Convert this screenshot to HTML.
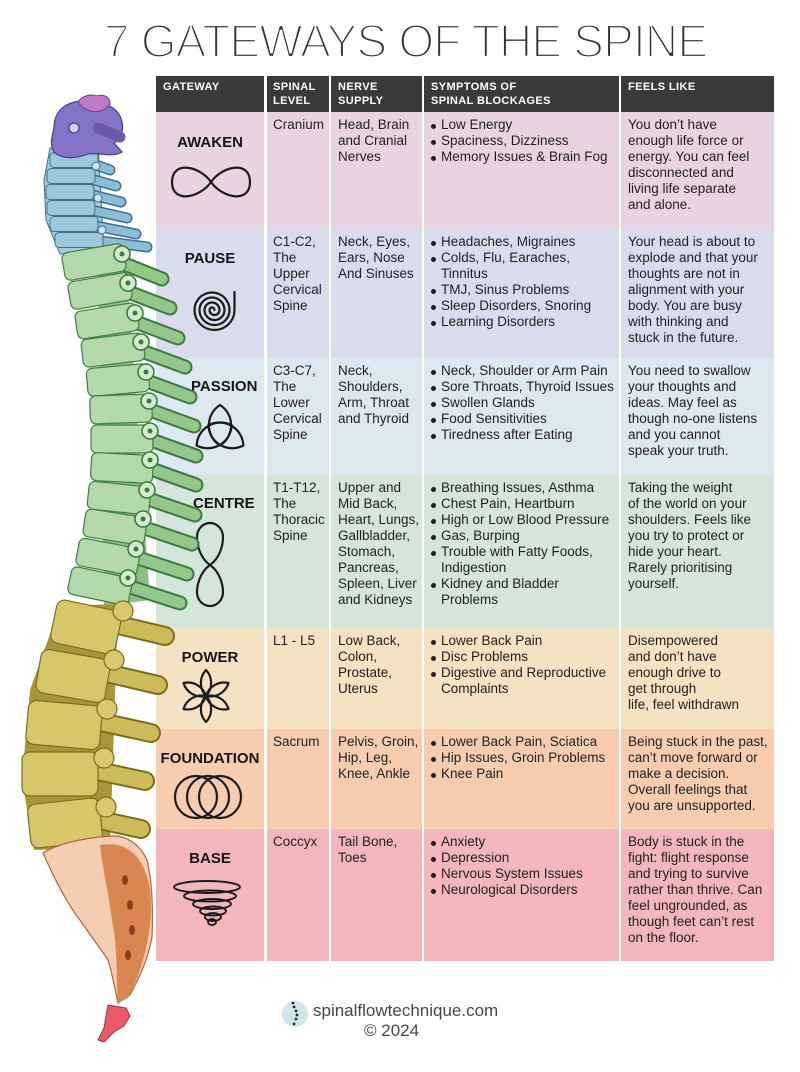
<!DOCTYPE html>
<html><head><meta charset="utf-8">
<style>
*{margin:0;padding:0;box-sizing:border-box}
html,body{width:800px;height:1072px;background:#fff;overflow:hidden}
body{position:relative;font-family:"Liberation Sans",Arial,sans-serif;color:#1f1f1f}
.hd,.row{position:absolute;left:0;width:800px}
.hd{top:76px;height:36px}
.cell{position:absolute;top:0;height:100%}
.a{left:156px;width:108px}
.b{left:267px;width:62px}
.c{left:331px;width:91px}
.d{left:424px;width:195px}
.e{left:621px;width:153px}
.hd .cell{background:#3a3a3a;color:#fff;font-weight:bold;font-size:11px;line-height:13.5px;letter-spacing:0.4px;padding-top:5px;white-space:nowrap}
.hd .a{padding-left:7px}.hd .b{padding-left:6px}.hd .c{padding-left:7px}.hd .d{padding-left:7px}.hd .e{padding-left:7px}
.row .cell{background:var(--bg);font-size:13.5px;line-height:16px;padding-top:5px;white-space:nowrap}
.row .b{padding-left:6px}.row .c{padding-left:7px}.row .e{padding-left:7px}
ul{list-style:none}
li{position:relative;padding-left:17px}
li::before{content:"";position:absolute;left:7px;top:6.5px;width:5px;height:5px;border-radius:50%;background:#1f1f1f}
.lab{position:absolute;font-weight:bold;font-size:15px;line-height:17px;color:#161616;white-space:nowrap}
.ctr{left:156px;width:108px;text-align:center}
.ft{position:absolute;font-size:17px;line-height:20px;color:#474747;white-space:nowrap}
svg.ov{position:absolute;left:0;top:0}
</style></head><body>

<div class="hd">
  <div class="cell a">GATEWAY</div>
  <div class="cell b">SPINAL<br>LEVEL</div>
  <div class="cell c">NERVE<br>SUPPLY</div>
  <div class="cell d">SYMPTOMS OF<br>SPINAL BLOCKAGES</div>
  <div class="cell e">FEELS LIKE</div>
</div>

<div class="row" style="top:112px;height:117px;--bg:#e9d3e3">
  <div class="cell a"></div>
  <div class="cell b">Cranium</div>
  <div class="cell c">Head, Brain<br>and Cranial<br>Nerves</div>
  <div class="cell d"><ul><li>Low Energy</li><li>Spaciness, Dizziness</li><li>Memory Issues &amp; Brain Fog</li></ul></div>
  <div class="cell e">You don’t have<br>enough life force or<br>energy. You can feel<br>disconnected and<br>living life separate<br>and alone.</div>
</div>

<div class="row" style="top:229px;height:129px;--bg:#d8dcec">
  <div class="cell a"></div>
  <div class="cell b">C1-C2,<br>The<br>Upper<br>Cervical<br>Spine</div>
  <div class="cell c">Neck, Eyes,<br>Ears, Nose<br>And Sinuses</div>
  <div class="cell d"><ul><li>Headaches, Migraines</li><li>Colds, Flu, Earaches,<br>Tinnitus</li><li>TMJ, Sinus Problems</li><li>Sleep Disorders, Snoring</li><li>Learning Disorders</li></ul></div>
  <div class="cell e">Your head is about to<br>explode and that your<br>thoughts are not in<br>alignment with your<br>body. You are busy<br>with thinking and<br>stuck in the future.</div>
</div>

<div class="row" style="top:358px;height:117px;--bg:#dde9f1">
  <div class="cell a"></div>
  <div class="cell b">C3-C7,<br>The<br>Lower<br>Cervical<br>Spine</div>
  <div class="cell c">Neck,<br>Shoulders,<br>Arm, Throat<br>and Thyroid</div>
  <div class="cell d"><ul><li>Neck, Shoulder or Arm Pain</li><li>Sore Throats, Thyroid Issues</li><li>Swollen Glands</li><li>Food Sensitivities</li><li>Tiredness after Eating</li></ul></div>
  <div class="cell e">You need to swallow<br>your thoughts and<br>ideas. May feel as<br>though no-one listens<br>and you cannot<br>speak your truth.</div>
</div>

<div class="row" style="top:475px;height:153px;--bg:#d4e6da">
  <div class="cell a"></div>
  <div class="cell b">T1-T12,<br>The<br>Thoracic<br>Spine</div>
  <div class="cell c">Upper and<br>Mid Back,<br>Heart, Lungs,<br>Gallbladder,<br>Stomach,<br>Pancreas,<br>Spleen, Liver<br>and Kidneys</div>
  <div class="cell d"><ul><li>Breathing Issues, Asthma</li><li>Chest Pain, Heartburn</li><li>High or Low Blood Pressure</li><li>Gas, Burping</li><li>Trouble with Fatty Foods,<br>Indigestion</li><li>Kidney and Bladder<br>Problems</li></ul></div>
  <div class="cell e">Taking the weight<br>of the world on your<br>shoulders. Feels like<br>you try to protect or<br>hide your heart.<br>Rarely prioritising<br>yourself.</div>
</div>

<div class="row" style="top:628px;height:101px;--bg:#f5e2c2">
  <div class="cell a"></div>
  <div class="cell b">L1 - L5</div>
  <div class="cell c">Low Back,<br>Colon,<br>Prostate,<br>Uterus</div>
  <div class="cell d"><ul><li>Lower Back Pain</li><li>Disc Problems</li><li>Digestive and Reproductive<br>Complaints</li></ul></div>
  <div class="cell e">Disempowered<br>and don’t have<br>enough drive to<br>get through<br>life, feel withdrawn</div>
</div>

<div class="row" style="top:729px;height:100px;--bg:#f8cdaf">
  <div class="cell a"></div>
  <div class="cell b">Sacrum</div>
  <div class="cell c">Pelvis, Groin,<br>Hip, Leg,<br>Knee, Ankle</div>
  <div class="cell d"><ul><li>Lower Back Pain, Sciatica</li><li>Hip Issues, Groin Problems</li><li>Knee Pain</li></ul></div>
  <div class="cell e">Being stuck in the past,<br>can’t move forward or<br>make a decision.<br>Overall feelings that<br>you are unsupported.</div>
</div>

<div class="row" style="top:829px;height:132px;--bg:#f3b7bb">
  <div class="cell a"></div>
  <div class="cell b">Coccyx</div>
  <div class="cell c">Tail Bone,<br>Toes</div>
  <div class="cell d"><ul><li>Anxiety</li><li>Depression</li><li>Nervous System Issues</li><li>Neurological Disorders</li></ul></div>
  <div class="cell e">Body is stuck in the<br>fight: flight response<br>and trying to survive<br>rather than thrive. Can<br>feel ungrounded, as<br>though feet can’t rest<br>on the floor.</div>
</div>

<div class="lab ctr" style="top:134px">AWAKEN</div>
<div class="lab ctr" style="top:250px">PAUSE</div>
<div class="lab" style="top:378px;left:191px">PASSION</div>
<div class="lab" style="top:495px;left:193px">CENTRE</div>
<div class="lab ctr" style="top:649px">POWER</div>
<div class="lab ctr" style="top:750px">FOUNDATION</div>
<div class="lab ctr" style="top:850px">BASE</div>

<div class="ft" style="left:313px;top:1001px">spinalflowtechnique.com</div>
<div class="ft" style="left:364px;top:1021px">© 2024</div>

<svg class="ov" width="800" height="1072" viewBox="0 0 800 1072">
  <!-- Title -->
  <text x="104" y="57" font-family="Liberation Sans, Arial, sans-serif" font-size="46" fill="#333" stroke="#fff" stroke-width="2.3" textLength="604" lengthAdjust="spacing">7 GATEWAYS OF THE SPINE</text>

  <!-- Icons -->
  <g fill="none" stroke="#1c1c1c" stroke-width="2.2" stroke-linejoin="round" stroke-linecap="round">
    <path d="M211,182 C222,166 250,160 250,182 C250,204 222,198 211,182 C200,166 172,160 172,182 C172,204 200,198 211,182 Z"/>
    <path d="M214.5,310 A2.5,2.5 0 0 0 209.5,310 A5,5 0 0 0 219.5,310 A7.5,7.5 0 0 0 204.5,310 A10,10 0 0 0 224.5,310 A12.5,12.5 0 0 0 199.5,310 A15,15 0 0 0 229.5,310 A17.5,17.5 0 0 0 194.5,310 A20,20 0 0 0 234.5,310 L234.5,292"/>
    <g>
      <path d="M220,405 A24,24 0 0 1 220,445.5 A24,24 0 0 1 220,405 Z"/>
      <path d="M220,405 A24,24 0 0 1 220,445.5 A24,24 0 0 1 220,405 Z" transform="rotate(120 220 432)"/>
      <path d="M220,405 A24,24 0 0 1 220,445.5 A24,24 0 0 1 220,405 Z" transform="rotate(240 220 432)"/>
    </g>
    <path d="M210,565 C220,572 223,585 223,592 C223,600 217,606 210,606 C203,606 197,600 197,592 C197,585 200,572 210,565 C220,558 223,545 223,537 C223,529 217,523 210,523 C203,523 197,529 197,537 C197,545 200,558 210,565 Z"/>
    <g>
      <path d="M206,696 A19,19 0 0 1 206,670 A19,19 0 0 1 206,696 Z"/>
      <path d="M206,696 A19,19 0 0 1 206,670 A19,19 0 0 1 206,696 Z" transform="rotate(60 206 696)"/>
      <path d="M206,696 A19,19 0 0 1 206,670 A19,19 0 0 1 206,696 Z" transform="rotate(120 206 696)"/>
      <path d="M206,696 A19,19 0 0 1 206,670 A19,19 0 0 1 206,696 Z" transform="rotate(180 206 696)"/>
      <path d="M206,696 A19,19 0 0 1 206,670 A19,19 0 0 1 206,696 Z" transform="rotate(240 206 696)"/>
      <path d="M206,696 A19,19 0 0 1 206,670 A19,19 0 0 1 206,696 Z" transform="rotate(300 206 696)"/>
    </g>
    <circle cx="196" cy="797" r="21"/>
    <circle cx="208" cy="797" r="21"/>
    <circle cx="220" cy="797" r="21"/>
    <g stroke-width="1.9">
      <ellipse cx="207" cy="887" rx="33" ry="6"/>
      <ellipse cx="210" cy="896" rx="26" ry="5.5"/>
      <ellipse cx="212" cy="904" rx="19" ry="5"/>
      <ellipse cx="213" cy="911" rx="13" ry="4.5"/>
      <ellipse cx="213" cy="917" rx="8" ry="4"/>
      <ellipse cx="212" cy="922" rx="4" ry="3"/>
    </g>
  </g>

  <!-- Spine: cervical (blue) -->
  <g>
    <path d="M50,148 L98,144 L104,252 L60,254 L46,220 L44,180 Z" fill="#a6cbe0" stroke="#3c7090" stroke-width="1"/>
    <g stroke-linecap="round">
      <g stroke="#3c7090" stroke-width="11">
        <line x1="82" y1="160" x2="110" y2="170"/>
        <line x1="80" y1="176" x2="116" y2="186"/>
        <line x1="80" y1="192" x2="121" y2="202"/>
        <line x1="82" y1="208" x2="127" y2="218"/>
        <line x1="86" y1="224" x2="136" y2="234"/>
        <line x1="92" y1="240" x2="147" y2="247"/>
      </g>
      <g stroke="#8cbdd7" stroke-width="8">
        <line x1="82" y1="160" x2="110" y2="170"/>
        <line x1="80" y1="176" x2="116" y2="186"/>
        <line x1="80" y1="192" x2="121" y2="202"/>
        <line x1="82" y1="208" x2="127" y2="218"/>
        <line x1="86" y1="224" x2="136" y2="234"/>
        <line x1="92" y1="240" x2="147" y2="247"/>
      </g>
    </g>
    <g fill="#9ec8de" stroke="#3c7090" stroke-width="1">
      <rect x="50" y="152.5" width="48" height="15" rx="4"/>
      <rect x="47" y="168.5" width="48" height="15" rx="4"/>
      <rect x="46" y="184.5" width="48" height="15" rx="4"/>
      <rect x="47" y="200.5" width="48" height="15" rx="4"/>
      <rect x="50" y="216.5" width="48" height="15" rx="4"/>
      <rect x="55" y="232.5" width="48" height="15" rx="4"/>
    </g>
    <g fill="#cfe5f0" stroke="#3c7090" stroke-width="1">
      <circle cx="96" cy="166" r="4"/><circle cx="98" cy="198" r="4"/><circle cx="102" cy="230" r="4"/>
    </g>
  </g>

  <!-- Spine: atlas (purple) -->
  <path d="M54,128 C54,112 64,103 80,101 L100,103 C112,105 120,112 122,122 C124,132 120,140 114,143 L122,152 C112,158 98,152 88,154 C78,158 64,160 55,153 C49,146 52,136 54,128 Z" fill="#8374c8" stroke="#4a3a8a" stroke-width="1.2"/>
  <path d="M78,102 C82,95 92,94 96,96 C103,94 110,96 110,104 C105,111 96,113 90,111 C85,109 80,106 78,102 Z" fill="#c07ac8" stroke="#7a3a8a" stroke-width="1"/>
  <line x1="98" y1="128" x2="120" y2="137" stroke="#6c5aa8" stroke-width="11" stroke-linecap="round"/>
  <circle cx="74" cy="128" r="5" fill="#d8d2f0" stroke="#4a3a8a" stroke-width="1.2"/>

  <!-- Spine: thoracic (green) -->
  <path d="M98,250 L125,244 L150,600 L104,606 Z" fill="#8fbf86"/>
  <g stroke-linecap="round">
    <g stroke="#3a7a3f" stroke-width="15">
      <line x1="112" y1="259" x2="162" y2="279"/>
      <line x1="118" y1="288" x2="170" y2="308"/>
      <line x1="125" y1="318" x2="178" y2="338"/>
      <line x1="131" y1="347" x2="185" y2="367"/>
      <line x1="136" y1="377" x2="190" y2="397"/>
      <line x1="139" y1="406" x2="194" y2="426"/>
      <line x1="140" y1="436" x2="196" y2="456"/>
      <line x1="140" y1="465" x2="196" y2="485"/>
      <line x1="137" y1="495" x2="195" y2="515"/>
      <line x1="133" y1="524" x2="192" y2="544"/>
      <line x1="126" y1="554" x2="187" y2="574"/>
      <line x1="118" y1="583" x2="180" y2="603"/>
    </g>
    <g stroke="#94c78a" stroke-width="11">
      <line x1="112" y1="259" x2="162" y2="279"/>
      <line x1="118" y1="288" x2="170" y2="308"/>
      <line x1="125" y1="318" x2="178" y2="338"/>
      <line x1="131" y1="347" x2="185" y2="367"/>
      <line x1="136" y1="377" x2="190" y2="397"/>
      <line x1="139" y1="406" x2="194" y2="426"/>
      <line x1="140" y1="436" x2="196" y2="456"/>
      <line x1="140" y1="465" x2="196" y2="485"/>
      <line x1="137" y1="495" x2="195" y2="515"/>
      <line x1="133" y1="524" x2="192" y2="544"/>
      <line x1="126" y1="554" x2="187" y2="574"/>
      <line x1="118" y1="583" x2="180" y2="603"/>
    </g>
  </g>
  <g fill="#b3d8aa" stroke="#3f7f45" stroke-width="1.2">
    <rect x="63" y="248" width="62" height="28" rx="6" transform="rotate(-10 94 262)"/>
    <rect x="69" y="277" width="62" height="28" rx="6" transform="rotate(-10 100 291)"/>
    <rect x="76" y="307" width="62" height="28" rx="6" transform="rotate(-9 107 321)"/>
    <rect x="82" y="336" width="62" height="28" rx="6" transform="rotate(-7 113 350)"/>
    <rect x="87" y="366" width="62" height="28" rx="6" transform="rotate(-5 118 380)"/>
    <rect x="90" y="395" width="62" height="28" rx="6" transform="rotate(-2 121 409)"/>
    <rect x="91" y="425" width="62" height="28" rx="6"/>
    <rect x="91" y="454" width="62" height="28" rx="6" transform="rotate(3 122 468)"/>
    <rect x="88" y="484" width="62" height="28" rx="6" transform="rotate(6 119 498)"/>
    <rect x="84" y="513" width="62" height="28" rx="6" transform="rotate(9 115 527)"/>
    <rect x="77" y="543" width="62" height="28" rx="6" transform="rotate(11 108 557)"/>
    <rect x="69" y="572" width="62" height="28" rx="6" transform="rotate(12 100 586)"/>
  </g>
  <g fill="#d4ebcd" stroke="#3a7a3f" stroke-width="1.6">
    <circle cx="122" cy="254" r="8"/><circle cx="128" cy="283" r="8"/><circle cx="135" cy="313" r="8"/>
    <circle cx="141" cy="342" r="8"/><circle cx="146" cy="372" r="8"/><circle cx="149" cy="401" r="8"/>
    <circle cx="150" cy="431" r="8"/><circle cx="150" cy="460" r="8"/><circle cx="147" cy="490" r="8"/>
    <circle cx="143" cy="519" r="8"/><circle cx="136" cy="549" r="8"/><circle cx="128" cy="578" r="8"/>
  </g>
  <g fill="#3a7a3f">
    <circle cx="122" cy="254" r="2.5"/><circle cx="128" cy="283" r="2.5"/><circle cx="135" cy="313" r="2.5"/>
    <circle cx="141" cy="342" r="2.5"/><circle cx="146" cy="372" r="2.5"/><circle cx="149" cy="401" r="2.5"/>
    <circle cx="150" cy="431" r="2.5"/><circle cx="150" cy="460" r="2.5"/><circle cx="147" cy="490" r="2.5"/>
    <circle cx="143" cy="519" r="2.5"/><circle cx="136" cy="549" r="2.5"/><circle cx="128" cy="578" r="2.5"/>
  </g>

  <!-- Spine: lumbar (yellow) -->
  <path d="M60,606 L118,604 L110,848 L34,850 L22,780 L30,690 Z" fill="#a8963a"/>
  <g stroke-linecap="round">
    <g stroke="#7d6d1a" stroke-width="20">
      <line x1="110" y1="623" x2="165" y2="636"/>
      <line x1="102" y1="672" x2="158" y2="685"/>
      <line x1="96" y1="721" x2="151" y2="733"/>
      <line x1="93" y1="770" x2="145" y2="781"/>
      <line x1="95" y1="819" x2="141" y2="829"/>
    </g>
    <g stroke="#cdbb5a" stroke-width="16">
      <line x1="110" y1="623" x2="165" y2="636"/>
      <line x1="102" y1="672" x2="158" y2="685"/>
      <line x1="96" y1="721" x2="151" y2="733"/>
      <line x1="93" y1="770" x2="145" y2="781"/>
      <line x1="95" y1="819" x2="141" y2="829"/>
    </g>
  </g>
  <g fill="#d7c66a" stroke="#7d6d1a" stroke-width="1.2">
    <rect x="53" y="605" width="66" height="44" rx="8" transform="rotate(12 86 627)"/>
    <rect x="38" y="654" width="70" height="44" rx="8" transform="rotate(10 73 676)"/>
    <rect x="27" y="703" width="74" height="44" rx="8" transform="rotate(5 64 725)"/>
    <rect x="22" y="752" width="76" height="44" rx="8"/>
    <rect x="29" y="801" width="72" height="44" rx="8" transform="rotate(-6 65 823)"/>
  </g>
  <g fill="#d9c870" stroke="#7d6d1a" stroke-width="1.2">
    <circle cx="123" cy="611" r="10"/><circle cx="114" cy="660" r="10"/><circle cx="107" cy="709" r="10"/>
    <circle cx="104" cy="758" r="10"/><circle cx="106" cy="807" r="10"/>
  </g>

  <!-- Sacrum -->
  <path d="M43,853 C60,842 95,836 117,836 C130,838 140,845 147,860 C152,880 153,910 152,937 C148,960 138,980 130,995 L118,1003 C114,985 112,972 108,960 C98,945 88,932 80,920 C68,905 55,880 43,853 Z" fill="#f4cdb2" stroke="#b0653a" stroke-width="1.2"/>
  <path d="M100,845 C125,840 145,855 150,890 C154,925 145,965 128,998 L118,1003 C116,980 118,950 112,920 C108,890 102,865 100,845 Z" fill="#d98650"/>
  <g fill="#8a3d1c">
    <ellipse cx="125" cy="880" rx="3" ry="5"/><ellipse cx="130" cy="905" rx="3" ry="5"/>
    <ellipse cx="132" cy="930" rx="3" ry="5"/><ellipse cx="128" cy="955" rx="3" ry="5"/>
  </g>
  <!-- Coccyx -->
  <path d="M108,1005 L126,1008 L130,1016 L124,1026 L114,1032 L104,1042 L98,1040 L104,1028 L106,1016 Z" fill="#e65d68" stroke="#b03040" stroke-width="1"/>

  <!-- Footer logo -->
  <circle cx="295" cy="1014" r="13" fill="#cfe7e9"/>
  <g fill="#2a2a2a">
    <circle cx="293" cy="1003" r="1.4"/><circle cx="294" cy="1007" r="1.4"/><circle cx="296" cy="1011" r="1.4"/>
    <circle cx="297" cy="1015" r="1.4"/><circle cx="296" cy="1019" r="1.4"/><circle cx="294" cy="1024" r="1.4"/>
  </g>
</svg>
</body></html>
